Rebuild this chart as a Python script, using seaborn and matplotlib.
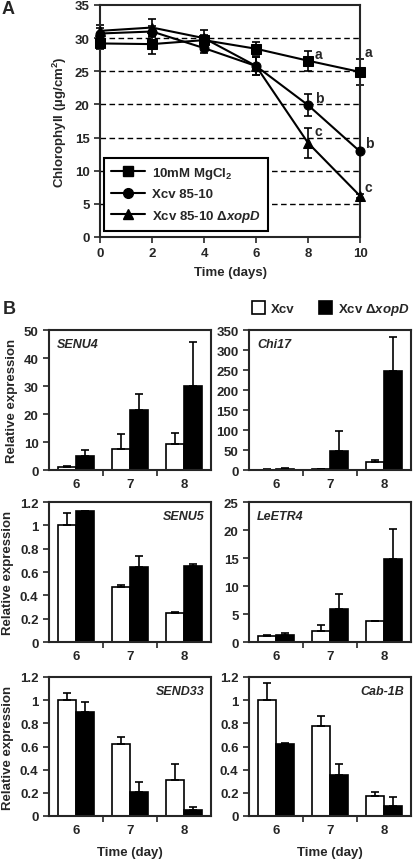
import numpy as np
import pandas as pd
import seaborn as sns
import matplotlib.pyplot as plt
from matplotlib.patches import Patch

sns.set_style('ticks')
plt.rcParams['font.family'] = ['Liberation Sans', 'DejaVu Sans']
plt.rcParams['font.weight'] = 'bold'
plt.rcParams['axes.labelweight'] = 'bold'
plt.rcParams['mathtext.fontset'] = 'custom'
plt.rcParams['mathtext.rm'] = 'Liberation Sans:bold'
plt.rcParams['mathtext.it'] = 'Liberation Sans:italic:bold'
plt.rcParams['mathtext.bf'] = 'Liberation Sans:bold'
plt.rcParams['axes.linewidth'] = 1.5
plt.rcParams['xtick.major.width'] = 1.2
plt.rcParams['ytick.major.width'] = 1.2
plt.rcParams['xtick.minor.width'] = 1.2

FS = 9.5

# ---- panel A data: chlorophyll content ----
days = [0, 2, 4, 6, 8, 10]
mgcl2 = [29.2, 29.1, 29.7, 28.4, 26.6, 24.9]
mgcl2_err = [0.8, 1.5, 0.8, 1.0, 1.5, 1.9]
xcv = [30.7, 31.0, 28.5, 25.8, 19.9, 12.9]
xcv_err = [0.8, 0.8, 0.8, 1.4, 1.6, 0.3]
dxopd = [31.1, 31.6, 30.0, 25.8, 14.2, 6.2]
dxopd_err = [0.9, 1.3, 1.2, 1.4, 2.3, 0.3]
letters_d8 = ['a', 'b', 'c']
letters_d10 = ['a', 'b', 'c']
grid_lines = [5, 10, 15, 20, 25, 30]

series_names = ['10mM MgCl$_2$', 'Xcv 85-10', 'Xcv 85-10 \u0394$\\mathit{xopD}$']
series_vals = [mgcl2, xcv, dxopd]
series_errs = [mgcl2_err, xcv_err, dxopd_err]
series_markers = ['s', 'o', '^']

# ---- panel B data: relative expression ----
time_days = ['6', '7', '8']
strains = ['Xcv', 'Xcv \u0394$\\mathit{xopD}$']
genes = ['SENU4', 'Chi17', 'SENU5', 'LeETR4', 'SEND33', 'Cab-1B']
expr_wt = {
    'SENU4': [1.0, 7.5, 9.2],
    'Chi17': [1.0, 2.0, 20.0],
    'SENU5': [1.0, 0.47, 0.25],
    'LeETR4': [1.0, 2.0, 3.7],
    'SEND33': [1.0, 0.62, 0.31],
    'Cab-1B': [1.0, 0.78, 0.17],
}
err_wt = {
    'SENU4': [0.3, 5.5, 4.0],
    'Chi17': [0.5, 0.5, 5.0],
    'SENU5': [0.11, 0.02, 0.01],
    'LeETR4': [0.2, 1.0, 0.1],
    'SEND33': [0.06, 0.06, 0.14],
    'Cab-1B': [0.15, 0.08, 0.04],
}
expr_mut = {
    'SENU4': [5.0, 21.3, 30.0],
    'Chi17': [3.0, 47.0, 247.0],
    'SENU5': [1.12, 0.64, 0.65],
    'LeETR4': [1.3, 5.9, 14.9],
    'SEND33': [0.90, 0.21, 0.05],
    'Cab-1B': [0.62, 0.35, 0.09],
}
err_mut = {
    'SENU4': [2.0, 5.7, 15.6],
    'Chi17': [1.0, 50.0, 85.0],
    'SENU5': [0.0, 0.10, 0.02],
    'LeETR4': [0.3, 2.6, 5.3],
    'SEND33': [0.08, 0.08, 0.03],
    'Cab-1B': [0.01, 0.10, 0.07],
}
y_ticks = {
    'SENU4': [0, 10, 20, 30, 40, 50],
    'Chi17': [0, 50, 100, 150, 200, 250, 300, 350],
    'SENU5': [0, 0.2, 0.4, 0.6, 0.8, 1.0, 1.2],
    'LeETR4': [0, 5, 10, 15, 20, 25],
    'SEND33': [0, 0.2, 0.4, 0.6, 0.8, 1.0, 1.2],
    'Cab-1B': [0, 0.2, 0.4, 0.6, 0.8, 1.0, 1.2],
}
label_right = {'SENU4': False, 'Chi17': False, 'SENU5': True,
               'LeETR4': False, 'SEND33': True, 'Cab-1B': True}

W, H = 415, 862
fig = plt.figure(figsize=(W / 100, H / 100), dpi=100)


def px_axes(x0, y_top, x1, y_bot):
    return fig.add_axes([x0 / W, 1 - y_bot / H, (x1 - x0) / W, (y_bot - y_top) / H])


# ================= panel A =================
ax = px_axes(100, 6, 360, 238)
rows = []
for name, vals in zip(series_names, series_vals):
    for d, v in zip(days, vals):
        rows.append({'day': d, 'chl': v, 'group': name})
df_a = pd.DataFrame(rows)

for y in grid_lines:
    ax.axhline(y, color='black', ls=(0, (4, 2.5)), lw=1.0, zorder=0)

sns.lineplot(data=df_a, x='day', y='chl', style='group', markers=dict(zip(series_names, series_markers)),
             dashes=False, color='black', errorbar=None, markersize=6.5, markeredgecolor='black',
             linewidth=1.5, ax=ax, legend=False, clip_on=False, zorder=3)
for vals, errs in zip(series_vals, series_errs):
    ax.errorbar(days, vals, yerr=errs, fmt='none', ecolor='black', elinewidth=1.2,
                capsize=3, capthick=1.2, clip_on=False, zorder=2)

for i, vals in enumerate(series_vals):
    ax.annotate(letters_d8[i], (days[4], vals[4] + series_errs[i][4]), xytext=(5, -2.5),
                textcoords='offset points', ha='left', va='center', fontsize=10)
    ax.annotate(letters_d10[i], (days[5], vals[5] + series_errs[i][5]), xytext=(3.5, 5),
                textcoords='offset points', ha='left', va='center', fontsize=10,
                annotation_clip=False)

ax.set_xlim(0, 10)
ax.set_ylim(0, 35)
ax.set_xticks(days)
ax.set_yticks([0, 5, 10, 15, 20, 25, 30, 35])
ax.tick_params(labelsize=FS, length=4)
ax.set_xlabel('Time (days)', fontsize=FS, labelpad=5)
ax.set_ylabel('Chlorophyll (\u00b5g/cm$^2$)', fontsize=FS)

handles = [plt.Line2D([], [], color='black', lw=1.5, marker=m, markersize=7) for m in series_markers]
leg = ax.legend(handles, series_names, loc='lower left', bbox_to_anchor=(0.015, 0.026),
                frameon=True, fancybox=False, edgecolor='black', fontsize=FS,
                handlelength=2.6, handletextpad=0.5, labelspacing=0.55, borderpad=0.55,
                borderaxespad=0, framealpha=1)
leg.get_frame().set_linewidth(1.5)
leg.set_zorder(5)

fig.text(2 / W, 1 - 9 / H, 'A', fontsize=13, fontweight='bold', va='center', ha='left')

# ================= panel B =================
col_x = [(49, 211), (249, 411)]
row_y = [(331, 471), (503, 643), (678, 817)]
palette = {strains[0]: 'white', strains[1]: 'black'}

for gi, gene in enumerate(genes):
    r, c = divmod(gi, 2)
    bx = px_axes(col_x[c][0], row_y[r][0], col_x[c][1], row_y[r][1])
    df_b = pd.DataFrame({
        'day': time_days * 2,
        'expr': expr_wt[gene] + expr_mut[gene],
        'strain': [strains[0]] * 3 + [strains[1]] * 3,
    })
    sns.barplot(data=df_b, x='day', y='expr', hue='strain', palette=palette, hue_order=strains,
                order=time_days, width=0.66, saturation=1, edgecolor='black', linewidth=1.2,
                errorbar=None, legend=False, ax=bx)
    for cont, errs in zip(bx.containers, [err_wt[gene], err_mut[gene]]):
        xs = [p.get_x() + p.get_width() / 2 for p in cont.patches]
        hs = [p.get_height() for p in cont.patches]
        bx.errorbar(xs, hs, yerr=[np.zeros(3), errs], fmt='none', ecolor='black',
                    elinewidth=1.2, capsize=3, capthick=1.2, clip_on=False)
    ticks = y_ticks[gene]
    bx.set_ylim(0, ticks[-1])
    bx.set_yticks(ticks)
    bx.set_yticklabels(['%g' % t for t in ticks])
    bx.set_xlim(-0.5, 2.5)
    bx.set_xticks([0, 1, 2])
    bx.set_xticklabels(time_days)
    bx.set_xticks([0.5, 1.5], minor=True)
    bx.tick_params(axis='x', which='major', length=0, labelsize=FS, pad=6)
    bx.tick_params(axis='x', which='minor', length=4, direction='out')
    bx.tick_params(axis='y', labelsize=FS, length=4)
    bx.set_xlabel('Time (day)' if r == 2 else '', fontsize=FS, labelpad=7)
    bx.set_ylabel('Relative expression' if c == 0 else '', fontsize=FS)
    if label_right[gene]:
        bx.text(0.96, 0.94, gene, transform=bx.transAxes, ha='right', va='top',
                fontsize=9, fontweight='bold', fontstyle='italic')
    else:
        bx.text(0.05, 0.94, gene, transform=bx.transAxes, ha='left', va='top',
                fontsize=9, fontweight='bold', fontstyle='italic')

fig.legend(handles=[Patch(facecolor='white', edgecolor='black', lw=1.2),
                    Patch(facecolor='black', edgecolor='black', lw=1.2)],
           labels=strains, loc='center left', bbox_to_anchor=(252 / W, 1 - 310 / H),
           ncol=2, frameon=False, fontsize=FS, handlelength=1.0, handleheight=1.1,
           handletextpad=0.4, columnspacing=1.9, borderpad=0, borderaxespad=0)

fig.text(3 / W, 1 - 309 / H, 'B', fontsize=13, fontweight='bold', va='center', ha='left')

fig.savefig('out.png', dpi=100)
